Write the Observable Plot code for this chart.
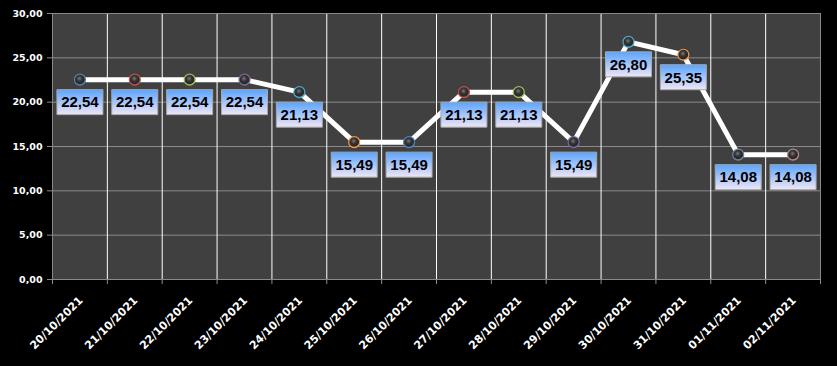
<!DOCTYPE html>
<html>
<head>
<meta charset="utf-8">
<script src="https://cdn.jsdelivr.net/npm/d3@7"></script>
<script src="https://cdn.jsdelivr.net/npm/@observablehq/plot@0.6"></script>
<style>
  html, body { margin: 0; padding: 0; background: #000; }
  #defs { position: absolute; width: 0; height: 0; }
</style>
</head>
<body>
<svg id="defs" width="0" height="0">
  <defs>
    <linearGradient id="boxgrad" x1="0" y1="0" x2="0" y2="1">
      <stop offset="0%" stop-color="#5aa4ff"/>
      <stop offset="100%" stop-color="#efe6f6"/>
    </linearGradient>
  </defs>
</svg>
<div id="chart"></div>
<script>
const dates = ["20/10/2021","21/10/2021","22/10/2021","23/10/2021","24/10/2021","25/10/2021","26/10/2021","27/10/2021","28/10/2021","29/10/2021","30/10/2021","31/10/2021","01/11/2021","02/11/2021"];
const values = [22.54, 22.54, 22.54, 22.54, 21.13, 15.49, 15.49, 21.13, 21.13, 15.49, 26.80, 25.35, 14.08, 14.08];
const markerColors = ["#4f81bd","#c0504d","#9bbb59","#8064a2","#4bacc6","#f79646","#4f81bd","#c0504d","#9bbb59","#8064a2","#4bacc6","#f79646","#6f86a8","#b88a8a"];
const yTicks = [0, 5, 10, 15, 20, 25, 30];

// sphere gradients
const defs = document.querySelector("#defs defs");
const ns = "http://www.w3.org/2000/svg";
markerColors.forEach((c, i) => {
  const g = document.createElementNS(ns, "radialGradient");
  g.setAttribute("id", "sph" + i);
  g.setAttribute("cx", "45%"); g.setAttribute("cy", "40%"); g.setAttribute("r", "60%");
  [["0%", "#7a7a7a"], ["40%", "#363636"], ["78%", "#262626"], ["100%", c]].forEach(([o, col]) => {
    const s = document.createElementNS(ns, "stop");
    s.setAttribute("offset", o); s.setAttribute("stop-color", col);
    g.appendChild(s);
  });
  defs.appendChild(g);
});

const data = values.map((v, i) => ({i, x: i + 0.5, v, date: dates[i], fill: `url(#sph${i})`, stroke: markerColors[i]}));
const fmt = v => d3.format(".2f")(v).replace(".", ",");

const boxSymbol = {
  draw(ctx) {
    ctx.moveTo(-23, -12.5); ctx.lineTo(23, -12.5); ctx.lineTo(23, 12.5); ctx.lineTo(-23, 12.5); ctx.closePath();
  }
};

const plot = Plot.plot({
  width: 837,
  height: 366,
  marginLeft: 52,
  marginRight: 17,
  marginTop: 13,
  marginBottom: 87,
  style: {background: "#000", color: "#fff", fontFamily: "'DejaVu Sans', sans-serif"},
  x: {domain: [0, 14], axis: null},
  y: {domain: [0, 30], axis: null},
  color: {type: "identity"},
  marks: [
    Plot.frame({fill: "#404040"}),
    Plot.ruleY(yTicks, {stroke: "#8a8a8a", strokeWidth: 1}),
    Plot.ruleX(d3.range(1, 14), {stroke: "#ffffff", strokeWidth: 1}),
    Plot.frame({stroke: "#8a8a8a"}),
    Plot.axisY({ticks: yTicks, tickFormat: fmt, tickSize: 5, tickPadding: 5, stroke: "#8a8a8a", fill: "#fff", fontSize: 9.5, fontWeight: "bold", label: null}),
    Plot.axisX({ticks: d3.range(0, 15), tickFormat: () => "", tickSize: 5, stroke: "#8a8a8a", label: null}),
    Plot.axisX({ticks: d3.range(0, 14).map(i => i + 0.5), tickFormat: d => dates[Math.round(d - 0.5)], tickSize: 0, tickRotate: -45, fill: "#fff", fontSize: 11, fontWeight: "bold", label: null, tickPadding: 6, dx: 1, dy: 13}),
    Plot.line(data, {x: "x", y: "v", stroke: "#fff", strokeWidth: 5}),
    Plot.dot(data, {x: "x", y: "v", r: 5.5, fill: "fill", stroke: "stroke", strokeWidth: 1.2}),
    Plot.dot(data, {x: "x", y: "v", dy: 22.5, symbol: boxSymbol, fill: "url(#boxgrad)", stroke: "#a8a8a8", strokeWidth: 1}),
    Plot.text(data, {x: "x", y: "v", dy: 23, text: d => fmt(d.v), fill: "#000", fontSize: 15, fontWeight: "bold", fontFamily: "'Liberation Sans', Arial, sans-serif"})
  ]
});
document.getElementById("chart").appendChild(plot);
</script>
</body>
</html>
